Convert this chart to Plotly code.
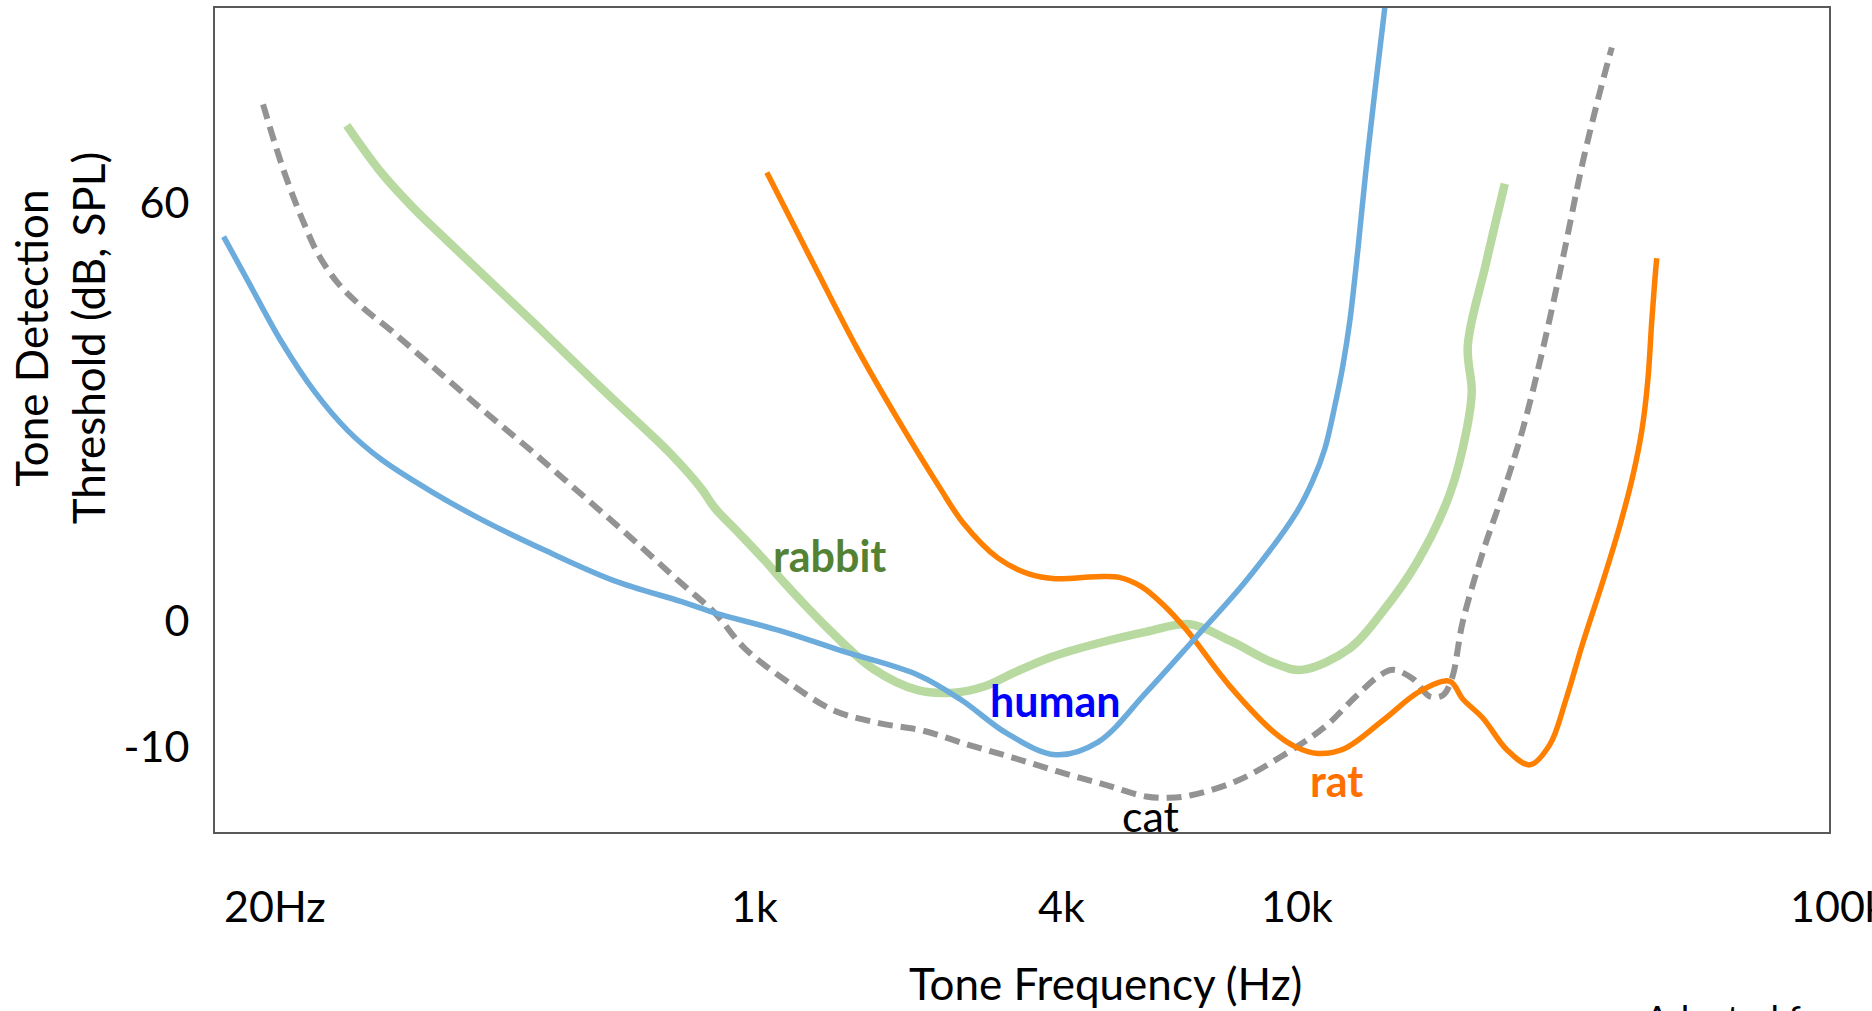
import numpy as np
import plotly.graph_objects as go

# ---------------- data (frequency in Hz, threshold in dB SPL) ----------------
human_hz = [13.2, 16.1, 21.2, 27.7, 36.3, 47.9, 72.0, 108, 185, 319, 551, 721,
            1120, 1483, 2092, 2552, 3126, 3904, 4618, 5566, 6706, 8210, 10000, 10703, 11265,
            11750, 12160, 12525, 12955, 13410, 13930, 14534]
human_db = [55.2, 48.8, 40.0, 32.9, 27.3, 23.1, 18.5, 14.5, 9.9, 5.7, 2.7, 1.1,
            -0.8, -2.4, -4.3, -6.3, -8.9, -10.6, -9.6, -5.7, -1.5, 5.7, 15.6, 20.1, 24.7,
            30.8, 36.6, 43.0, 53.1, 64.6, 76.0, 88.1]

rabbit_hz = [36.0, 47.9, 62.7, 80.7, 108, 168, 240, 319, 500, 649, 721, 877, 1056, 1140, 1398,
             1706, 2092, 2461, 2832, 3244, 3818, 4618, 5566, 6604, 7715, 9191, 10214, 12525,
             14410, 16650, 19160, 20590, 21030, 20680, 22320, 24200]
rabbit_db = [71.2, 64.3, 59.1, 54.8, 49.9, 42.5, 36.4, 31.6, 24.1, 18.9, 16.2, 12.6, 8.3, 5.5, -0.7,
             -3.8, -5.5, -5.7, -5.2, -4.1, -2.9, -1.8, -0.9, -0.3, -1.6, -3.4, -3.9, -2.2,
             1.3, 8.3, 18.2, 27.5, 32.9, 39.5, 51.2, 62.8]

rat_hz = [1056, 1318, 1587, 1919, 2310, 2564, 3004, 3456, 3904, 4583, 5011, 5459, 5946, 6502,
          7715, 9191, 9972, 10933, 12265, 14410, 16860, 19160, 20240, 22040, 24410, 26910,
          29300, 31350, 33700, 36840, 39440, 41690, 43310, 44420, 45180, 45760, 46150]
rat_db = [64.4, 50.6, 39.2, 28.7, 19.1, 14.1, 9.0, 6.7, 6.0, 6.3, 6.2, 4.9, 2.3, -0.7,
          -5.2, -8.9, -10.0, -10.5, -10.1, -7.9, -5.6, -4.8, -6.2, -7.7, -10.2, -11.4,
          -9.8, -6.3, -1.8, 6.0, 13.6, 20.8, 27.3, 34.4, 43.0, 48.8, 52.1]

cat_hz = [18.2, 20.0, 21.7, 23.6, 25.6, 28.4, 33.5, 40.7, 52.0, 72.0, 108, 162, 244, 367, 551,
          721, 921, 1166, 1430, 1753, 2140, 2622, 3201, 3925, 4691, 5566, 6085, 6630, 7898,
          9370, 11265, 12850, 14170, 15040, 16370, 17590, 18600, 19320, 20240, 22040, 23990,
          26120, 28440, 30970, 33700, 36220, 38130]
cat_db = [74.2, 68.7, 64.3, 60.3, 56.8, 52.8, 48.5, 45.1, 41.6, 36.6, 30.4, 24.4, 18.1, 11.8, 5.3,
          1.1, -2.2, -4.9, -7.1, -8.1, -8.7, -9.8, -10.8, -11.9, -12.9, -13.9, -14.0, -13.8, -12.7,
          -10.8, -8.4, -6.0, -4.4, -3.9, -4.6, -6.0, -5.9, -4.6, -0.1, 9.8, 18.2,
          27.5, 39.0, 52.1, 65.9, 75.9, 82.4]

# curve name labels: (text, Hz, dB)
label_text = ["rabbit", "human", "rat", "cat"]
label_hz = [1404, 3904, 11850, 5653]
label_db = [9.3, -6.3, -12.6, -15.4]

# axis tick labels (the original axes are schematic / non-uniform)
x_tick_hz = [20, 1000, 4000, 10000, 100000]
x_tick_text = ["20Hz", "1k", "4k", "10k", "100k"]
y_tick_db = [60, 0, -10]
y_tick_text = ["60", "0", "-10"]

# ---------------- schematic axis scales ----------------
X_TICK_POS = [2.114, 3.0, 3.565, 4.0, 5.0]   # axis position of each x tick label
X_RANGE = [2.004, 4.982]
Y_GAIN_POS = 0.549                             # compression of the scale above 0 dB
Y_RANGE = [-16.7, 48.35]


def xw(hz):
    lf = np.log10(np.atleast_1d(np.asarray(hz, dtype=float)))
    la = np.log10(np.asarray(x_tick_hz, dtype=float))
    pa = np.asarray(X_TICK_POS)
    out = np.interp(lf, la, pa)
    lo = lf < la[0]
    out[lo] = pa[0] + (lf[lo] - la[0]) * (pa[1] - pa[0]) / (la[1] - la[0])
    hi = lf > la[-1]
    out[hi] = pa[-1] + (lf[hi] - la[-1]) * (pa[-1] - pa[-2]) / (la[-1] - la[-2])
    return out


def yw(db):
    d = np.atleast_1d(np.asarray(db, dtype=float))
    return np.where(d < 0, d, d * Y_GAIN_POS)


FONT = "Lato, 'Open Sans', sans-serif"
FS = 43

fig = go.Figure()

series = [
    ("cat", cat_hz, cat_db, dict(color="#939393", width=6, dash="15px,8px")),
    ("rabbit", rabbit_hz, rabbit_db, dict(color="#B8DAA0", width=8.5)),
    ("rat", rat_hz, rat_db, dict(color="#FF8000", width=5.5)),
    ("human", human_hz, human_db, dict(color="#6CACDD", width=5.5)),
]
for name, hz, db, ln in series:
    fig.add_trace(go.Scatter(
        x=xw(hz), y=yw(db), mode="lines", name=name,
        line=dict(shape="spline", smoothing=1.0, **ln),
        hoverinfo="skip", showlegend=False,
    ))

label_style = [
    dict(color="#548235", weight="bold"),
    dict(color="#0000FF", weight="bold"),
    dict(color="#FF7000", weight="bold"),
    dict(color="#000000", weight="normal"),
]
annotations = []
for t, hz, db, st in zip(label_text, label_hz, label_db, label_style):
    annotations.append(dict(
        x=float(xw(hz)[0]), y=float(yw(db)[0]), xref="x", yref="y", text=t,
        showarrow=False, xanchor="center", yanchor="middle",
        font=dict(family=FONT, size=FS, color=st["color"], weight=st["weight"]),
    ))

# x tick labels (placed in paper space through the x scale, so 100k can sit past the frame)
for hz, t in zip(x_tick_hz, x_tick_text):
    px = (float(xw(hz)[0]) - X_RANGE[0]) / (X_RANGE[1] - X_RANGE[0])
    annotations.append(dict(
        x=px, y=-0.0896, xref="paper", yref="paper", text=t, showarrow=False,
        xanchor="center", yanchor="middle",
        font=dict(family=FONT, size=FS, color="#000000"),
    ))

# axis titles
annotations.append(dict(
    x=0.552, y=-0.1828, xref="paper", yref="paper", text="Tone Frequency (Hz)",
    showarrow=False, xanchor="center", yanchor="middle",
    font=dict(family=FONT, size=44, color="#000000"),
))
annotations.append(dict(
    x=-0.0967, y=0.599, xref="paper", yref="paper",
    text="Tone Detection<br>Threshold (dB, SPL)", textangle=-90,
    showarrow=False, xanchor="center", yanchor="middle",
    font=dict(family=FONT, size=44, color="#000000"),
))
annotations.append(dict(
    x=0.8848, y=-0.196, xref="paper", yref="paper", text="Adapted from",
    showarrow=False, xanchor="left", yanchor="top",
    font=dict(family=FONT, size=36, color="#000000"),
))

fig.update_layout(
    width=1872, height=1011,
    margin=dict(l=215, r=43, t=6, b=179),
    paper_bgcolor="white", plot_bgcolor="white",
    annotations=annotations,
    xaxis=dict(range=X_RANGE, showgrid=False, zeroline=False, showticklabels=False,
               showline=True, mirror=True, linecolor="#595959", linewidth=2, ticks=""),
    yaxis=dict(range=Y_RANGE, showgrid=False, zeroline=False,
               tickvals=list(yw(y_tick_db)), ticktext=y_tick_text,
               tickfont=dict(family=FONT, size=FS, color="#000000"),
               ticklabelstandoff=15,
               showline=True, mirror=True, linecolor="#595959", linewidth=2, ticks=""),
)

fig.write_html("out.html")
